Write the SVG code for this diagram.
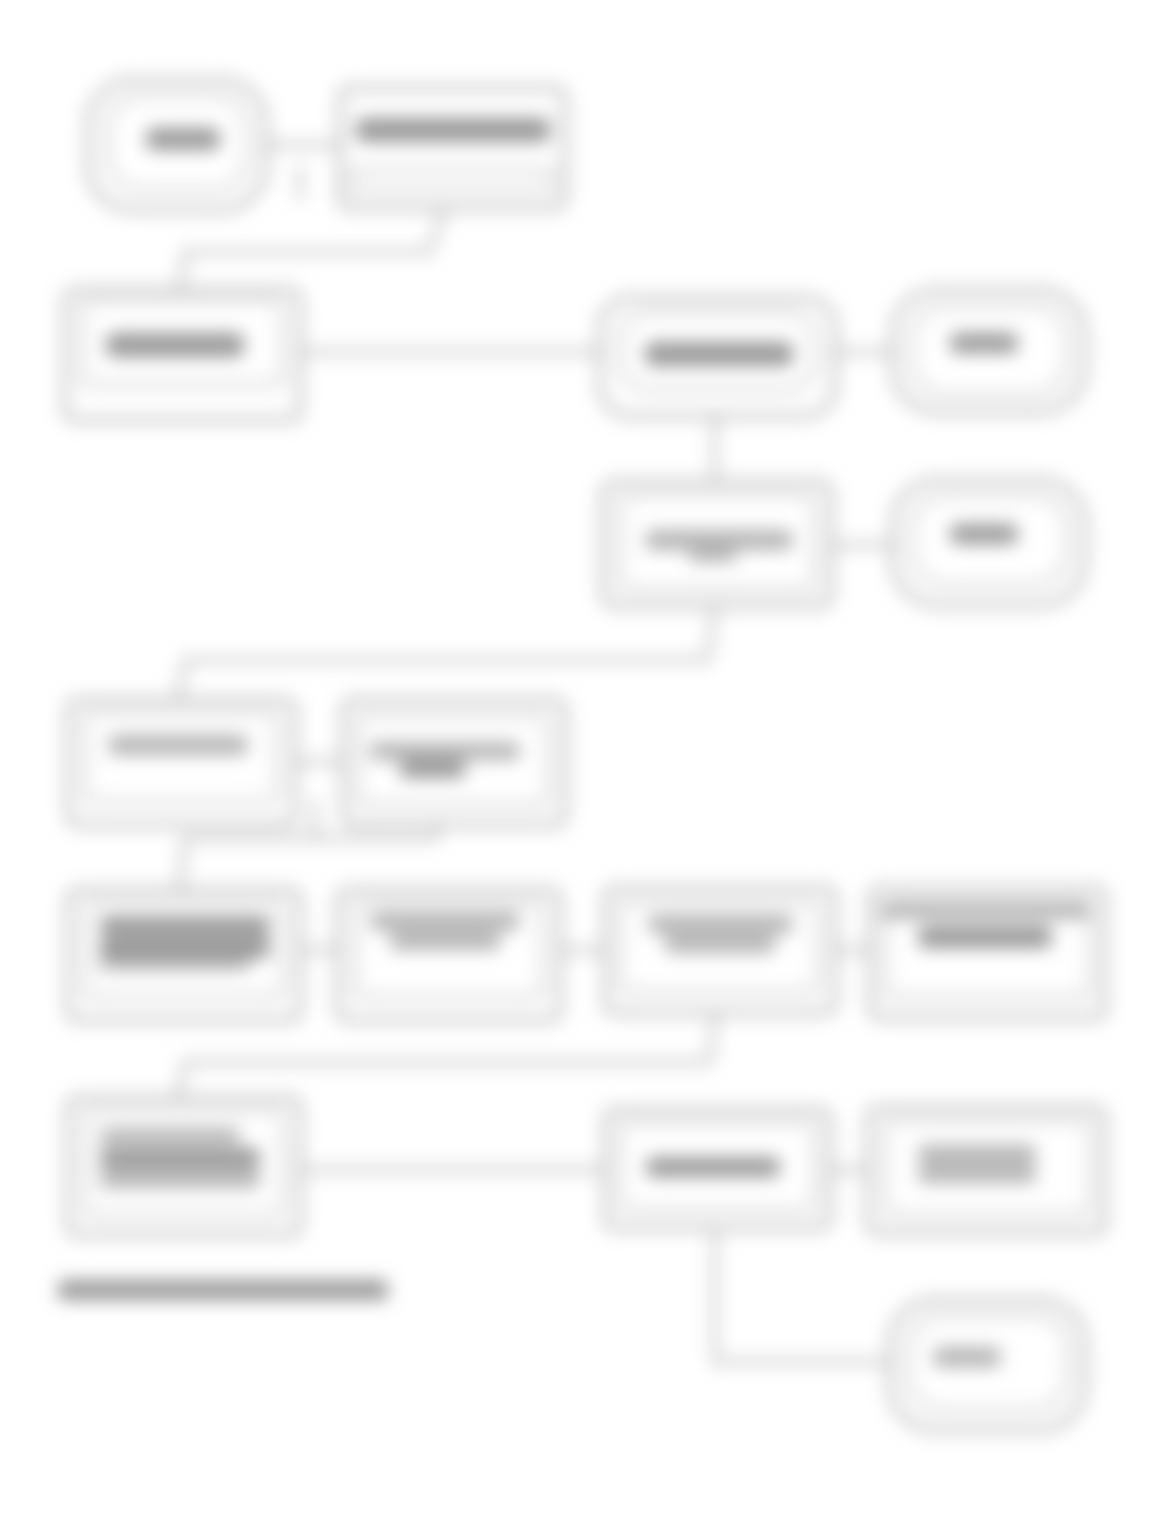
<svg xmlns="http://www.w3.org/2000/svg" width="1162" height="1523" viewBox="0 0 1162 1523">
<defs>
<filter id="blur" x="-10%" y="-10%" width="120%" height="120%"><feGaussianBlur stdDeviation="9"/></filter>
<style>
.box{fill:none;stroke:#b0b0b0;stroke-width:5}
.inner{fill:none;stroke:#d0d0d0;stroke-width:5}
.ln{fill:none;stroke:#bcbcbc;stroke-width:5}
.tx{fill:#989898}
.tx2{fill:#b4b4b4}
</style>
</defs>
<rect width="1162" height="1523" fill="#ffffff"/>
<g filter="url(#blur)">
<g id="connectors">
<path class="ln" d="M265 145 H340"/>
<path class="ln" d="M300 165 L300 200"/>
<path class="ln" d="M445 205 L430 252 H185 L180 292"/>
<path class="ln" d="M300 352 H600"/>
<path class="ln" d="M835 352 H895"/>
<path class="ln" d="M715 415 V480"/>
<path class="ln" d="M830 545 H895"/>
<path class="ln" d="M715 605 L708 660 H185 L178 702"/>
<path class="ln" d="M295 762 H345"/>
<path class="ln" d="M315 800 V840"/>
<path class="ln" d="M440 825 L435 838 H185 L180 890"/>
<path class="ln" d="M300 950 H340"/>
<path class="ln" d="M560 950 H605"/>
<path class="ln" d="M835 950 H870"/>
<path class="ln" d="M715 1012 L710 1062 H185 L178 1100"/>
<path class="ln" d="M300 1170 H605"/>
<path class="ln" d="M830 1170 H870"/>
<path class="ln" d="M715 1232 V1362 H890"/>
</g>
<g id="n1"><rect class="box" x="88" y="80" width="178" height="130" rx="45"/><rect class="inner" x="108" y="95" width="140" height="95" rx="35"/><rect class="tx" x="146" y="128" width="74" height="22" rx="8"/></g>
<g id="n2"><rect class="box" x="340" y="88" width="225" height="120" rx="10"/><rect class="inner" x="352" y="170" width="200" height="20"/><rect class="tx" x="356" y="118" width="194" height="24" rx="8"/></g>
<g id="n3"><rect class="box" x="65" y="290" width="235" height="130" rx="10"/><rect class="inner" x="82" y="300" width="200" height="85" rx="6"/><rect class="tx" x="106" y="333" width="138" height="24" rx="8"/></g>
<g id="n4"><rect class="box" x="600" y="298" width="235" height="118" rx="30"/><rect class="inner" x="620" y="312" width="195" height="78" rx="28"/><rect class="tx" x="645" y="342" width="148" height="24" rx="8"/></g>
<g id="n5"><rect class="box" x="893" y="290" width="192" height="122" rx="45"/><rect class="inner" x="912" y="305" width="155" height="90" rx="35"/><rect class="tx" x="950" y="333" width="68" height="20" rx="8"/></g>
<g id="n6"><rect class="box" x="603" y="482" width="228" height="124" rx="12"/><rect class="inner" x="620" y="495" width="195" height="95" rx="8"/><rect class="tx2" x="645" y="530" width="148" height="20" rx="8"/><rect class="tx2" x="690" y="548" width="45" height="14"/></g>
<g id="n7"><rect class="box" x="893" y="480" width="192" height="125" rx="45"/><rect class="inner" x="912" y="495" width="155" height="90" rx="35"/><rect class="tx" x="950" y="524" width="68" height="20" rx="8"/></g>
<g id="n8"><rect class="box" x="68" y="700" width="227" height="125" rx="10"/><rect class="inner" x="85" y="712" width="192" height="90" rx="6"/><rect class="tx2" x="108" y="735" width="140" height="20" rx="8"/></g>
<g id="n9"><rect class="box" x="343" y="700" width="222" height="125" rx="10"/><rect class="inner" x="358" y="715" width="190" height="90" rx="6"/><rect class="tx2" x="370" y="742" width="150" height="18" rx="6"/><rect class="tx" x="400" y="760" width="65" height="18" rx="6"/></g>
<g id="n10"><rect class="box" x="68" y="890" width="232" height="130" rx="10"/><rect class="inner" x="85" y="902" width="198" height="95" rx="6"/><rect class="tx" x="100" y="916" width="170" height="18" rx="6"/><rect class="tx" x="100" y="936" width="170" height="22" rx="6"/><rect class="tx2" x="100" y="958" width="150" height="12"/></g>
<g id="n11"><rect class="box" x="338" y="890" width="222" height="130" rx="10"/><rect class="inner" x="355" y="902" width="188" height="95" rx="6"/><rect class="tx2" x="370" y="912" width="150" height="18" rx="6"/><rect class="tx2" x="390" y="932" width="110" height="18" rx="6"/></g>
<g id="n12"><rect class="box" x="605" y="888" width="230" height="125" rx="10"/><rect class="inner" x="620" y="902" width="198" height="90" rx="6"/><rect class="tx2" x="648" y="915" width="145" height="18" rx="6"/><rect class="tx2" x="665" y="935" width="110" height="18" rx="6"/></g>
<g id="n13"><rect class="box" x="870" y="888" width="235" height="130" rx="10"/><rect class="inner" x="885" y="902" width="205" height="95" rx="6"/><rect class="tx2" x="880" y="903" width="210" height="16"/><rect class="tx" x="918" y="926" width="134" height="22" rx="8"/></g>
<g id="n14"><rect class="box" x="68" y="1098" width="232" height="137" rx="10"/><rect class="inner" x="85" y="1110" width="198" height="105" rx="6"/><rect class="tx2" x="100" y="1128" width="140" height="16" rx="6"/><rect class="tx" x="100" y="1148" width="160" height="20" rx="6"/><rect class="tx2" x="100" y="1170" width="160" height="18" rx="6"/></g>
<g id="n15"><rect class="box" x="605" y="1110" width="225" height="118" rx="10"/><rect class="inner" x="620" y="1122" width="195" height="88" rx="6"/><rect class="tx" x="646" y="1157" width="134" height="20" rx="8"/></g>
<g id="n16"><rect class="box" x="868" y="1108" width="237" height="125" rx="10"/><rect class="inner" x="885" y="1120" width="205" height="95" rx="6"/><rect class="tx2" x="918" y="1145" width="118" height="18" rx="6"/><rect class="tx2" x="918" y="1165" width="118" height="18" rx="6"/></g>
<g id="n17"><rect class="box" x="890" y="1300" width="195" height="130" rx="45"/><rect class="inner" x="908" y="1315" width="160" height="95" rx="35"/><rect class="tx2" x="933" y="1347" width="68" height="20" rx="8"/></g>
<g id="caption"><rect class="tx" x="58" y="1280" width="330" height="20" rx="6"/></g>
</g>
</svg>
